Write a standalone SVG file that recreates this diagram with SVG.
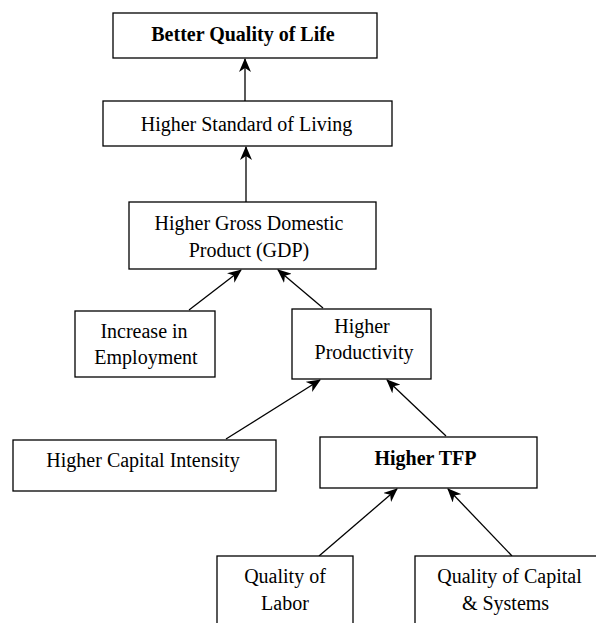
<svg xmlns="http://www.w3.org/2000/svg" width="596" height="623" viewBox="0 0 596 623">
<style>
.box{fill:#fff;stroke:#000;stroke-width:1.3}
.t{font-family:"Liberation Serif","Times New Roman",serif;font-size:20px;fill:#000;text-anchor:middle}
.b{font-weight:bold}
.c{stroke:#000;stroke-width:1.3;fill:none;marker-end:url(#ah)}
</style>
<defs>
<marker id="ah" viewBox="0 0 14 12" refX="13" refY="6" markerWidth="14" markerHeight="12" markerUnits="userSpaceOnUse" orient="auto">
<path d="M0,0 L14,6 L0,12 L4,6 z" fill="#000"/>
</marker>
</defs>
<rect width="596" height="623" fill="#fff"/>
<g id="connectors">
<line class="c" x1="245" y1="101" x2="245" y2="59"/>
<line class="c" x1="246" y1="202" x2="246" y2="147"/>
<line class="c" x1="189" y1="310" x2="241" y2="270"/>
<line class="c" x1="323" y1="308" x2="278" y2="270"/>
<line class="c" x1="226" y1="439" x2="320" y2="380"/>
<line class="c" x1="446" y1="436" x2="387" y2="380"/>
<line class="c" x1="319" y1="556" x2="397" y2="489"/>
<line class="c" x1="512" y1="556" x2="448" y2="489"/>
</g>
<g id="n1"><rect class="box" x="113" y="13" width="264" height="45"/><text class="t b" x="243" y="41">Better Quality of Life</text></g>
<g id="n2"><rect class="box" x="103" y="101" width="289" height="45"/><text class="t" x="246.5" y="131">Higher Standard of Living</text></g>
<g id="n3"><rect class="box" x="129" y="202" width="247" height="67"/><text class="t" x="249" y="230">Higher Gross Domestic</text><text class="t" x="249" y="257">Product (GDP)</text></g>
<g id="n4"><rect class="box" x="75" y="311" width="140" height="66"/><text class="t" x="144" y="338">Increase in</text><text class="t" x="146" y="364">Employment</text></g>
<g id="n5"><rect class="box" x="292" y="309" width="139" height="70"/><text class="t" x="362" y="333">Higher</text><text class="t" x="364" y="359">Productivity</text></g>
<g id="n6"><rect class="box" x="13" y="440" width="263" height="51"/><text class="t" x="143" y="467">Higher Capital Intensity</text></g>
<g id="n7"><rect class="box" x="320" y="437" width="217" height="51"/><text class="t b" x="425.5" y="465">Higher TFP</text></g>
<g id="n8"><rect class="box" x="217" y="556" width="136" height="80"/><text class="t" x="285" y="583">Quality of</text><text class="t" x="285" y="610">Labor</text></g>
<g id="n9"><rect class="box" x="415" y="556" width="190" height="80"/><text class="t" x="509.5" y="583">Quality of Capital</text><text class="t" x="505.5" y="610">&amp; Systems</text></g>
</svg>
